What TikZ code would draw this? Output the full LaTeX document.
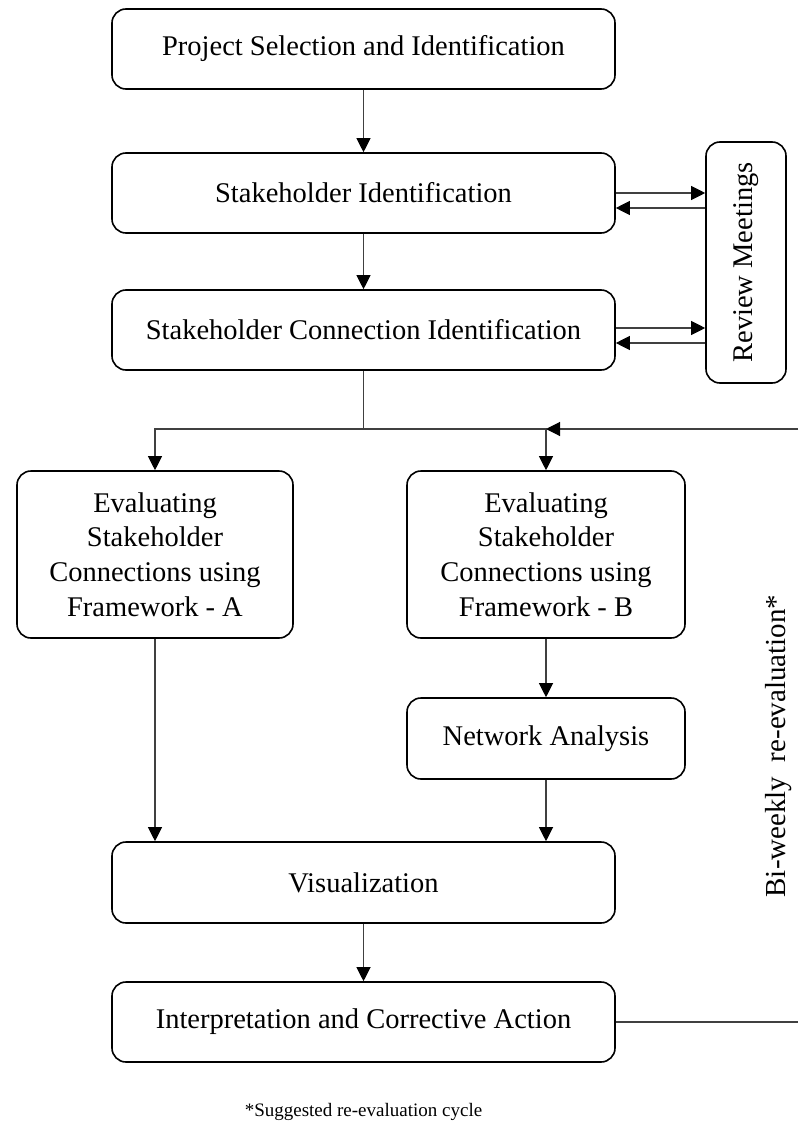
\documentclass[tikz,border=0pt]{standalone}
\usepackage{fontspec}
\setmainfont{Liberation Serif}
\usetikzlibrary{arrows.meta}
\begin{document}
\begin{tikzpicture}[x=1pt,y=-1pt,
  box/.style={draw=black,line width=1.6pt,rounded corners=14pt,fill=white,
    align=center,font=\fontsize{28.5}{34.7}\selectfont,inner sep=0pt},
  link/.style={draw=black!75,line width=1.1pt},
  arr/.style={link,-{Triangle[length=14pt,width=14pt,fill=black,color=black]}}]
\useasboundingbox (0,0) rectangle (798,1126);
% main column
\node[box,minimum width=503pt,minimum height=80pt] (sel) at (363.5,49) {Project Selection and Identification};
\node[box,minimum width=503pt,minimum height=80pt] (sid) at (363.5,193) {Stakeholder Identification};
\node[box,minimum width=503pt,minimum height=80pt] (scon) at (363.5,330) {Stakeholder Connection Identification};
\node[box,minimum width=80pt,minimum height=241pt] (rev) at (746,262.5) {};
\node[rotate=90,font=\fontsize{28.5}{34}\selectfont] (revt) at (rev.center) {Review Meetings};
% two evaluation branches
\node[box,minimum width=276pt,minimum height=167pt] (fa) at (155,554.5) {Evaluating\\Stakeholder\\Connections using\\Framework - A};
\node[box,minimum width=278pt,minimum height=167pt] (fb) at (546,554.5) {Evaluating\\Stakeholder\\Connections using\\Framework - B};
\node[box,minimum width=278pt,minimum height=81pt] (net) at (546,738.5) {Network Analysis};
\node[box,minimum width=503pt,minimum height=81pt] (vis) at (363.5,882.5) {Visualization};
\node[box,minimum width=503pt,minimum height=80pt] (int) at (363.5,1022) {Interpretation and Corrective Action};
% free ends of the feedback loop
\coordinate (split) at (363.5,429);
\coordinate (fbin) at (798,429);
\coordinate (fbout) at (798,1022);
% top sequence
\draw[arr] (sel.south) -- (sid.north);
\draw[arr] (sid.south) -- (scon.north);
% review meeting exchanges
\draw[arr] (sid.east) -- (rev.west |- sid.east);
\draw[arr] (rev.west |- 0,208) -- (sid.east |- 0,208);
\draw[arr] (scon.east |- 0,328) -- (rev.west |- 0,328);
\draw[arr] (rev.west |- 0,343) -- (scon.east |- 0,343);
% branch split
\draw[link] (scon.south) -- (split);
\draw[arr] (split) -| (fa.north);
\draw[arr] (split) -| (fb.north);
% feedback from corrective action
\draw[link] (int.east) -- (fbout);
\draw[arr] (fbin) -- (fb.north |- fbin);
% lower flow
\draw[arr] (fb.south) -- (net.north);
\draw[arr] (fa.south) -- (fa.south |- vis.north);
\draw[arr] (net.south) -- (net.south |- vis.north);
\draw[arr] (vis.south) -- (int.north);
% labels
\node[rotate=90,font=\fontsize{29}{34}\selectfont] (cyc) at (779,746) {Bi-weekly\ \ re-evaluation*};
\node[font=\fontsize{19}{22}\selectfont] (note) at (363.5,1112) {*Suggested re-evaluation cycle};
\end{tikzpicture}
\end{document}
